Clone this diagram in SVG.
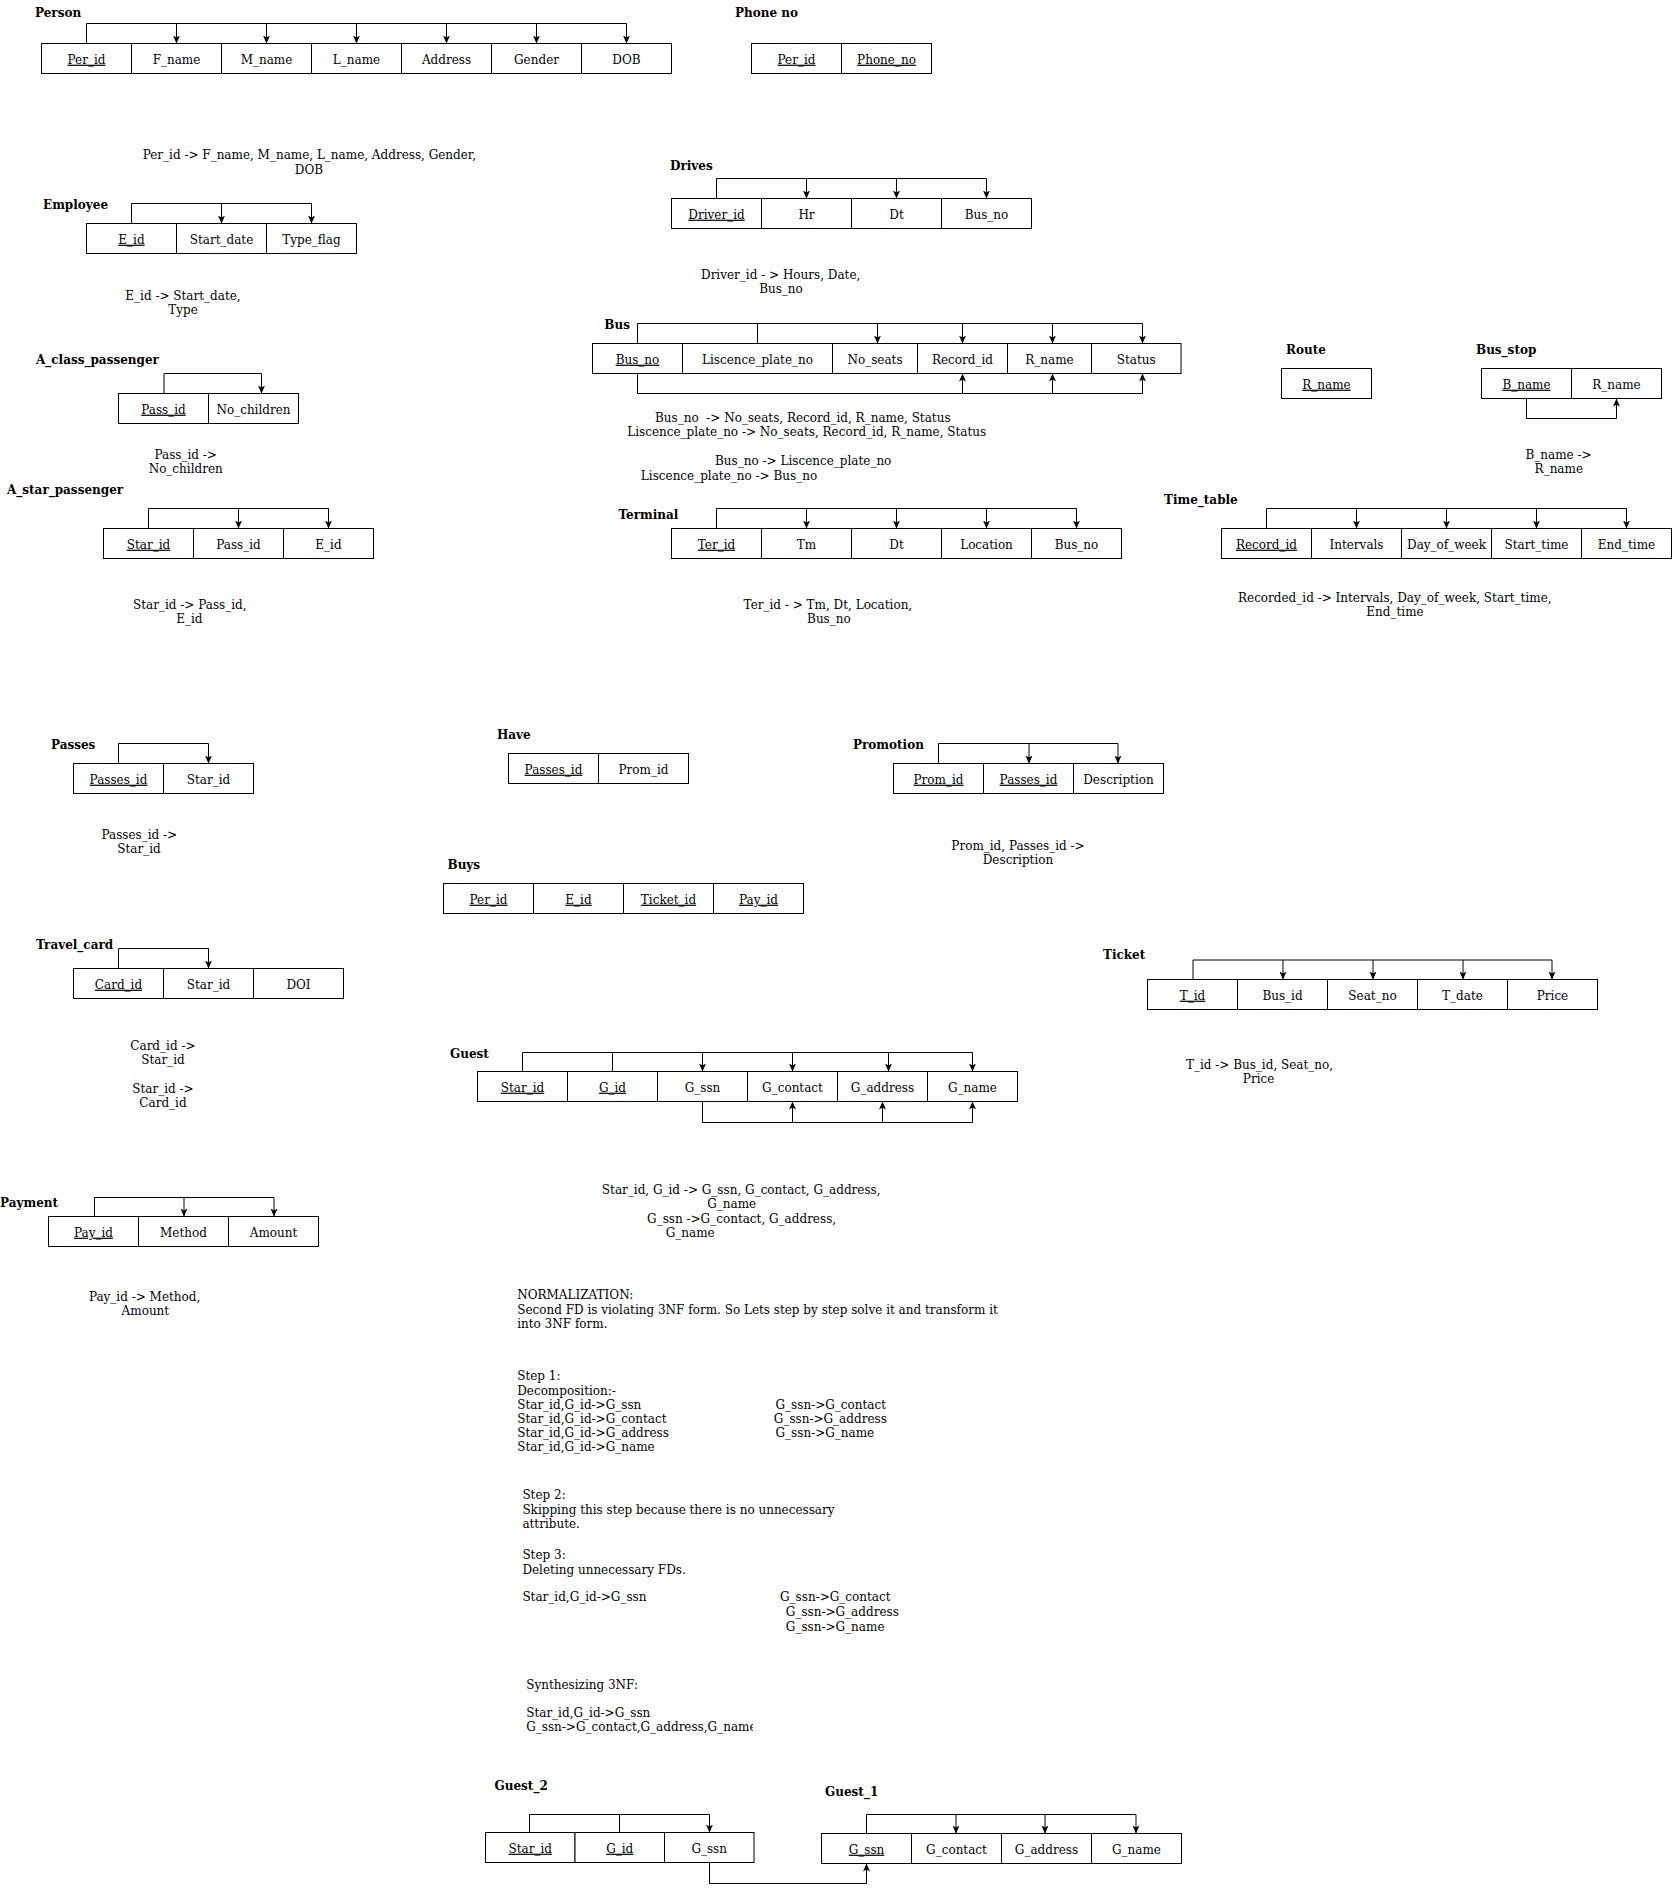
<svg xmlns="http://www.w3.org/2000/svg" width="1672" height="1892" viewBox="0 0 1672 1892">
<style>
  text { font-family: "DejaVu Serif", serif; font-size: 12px; fill: #000; transform: translateY(1px); }
  .c { text-anchor: middle; }
  .k { text-decoration: underline; }
  .lbl { font-weight: bold; }
  .cell { fill: #fff; stroke: #000; stroke-width: 1; }
  .ln { fill: none; stroke: #000; stroke-width: 1; }
  .ar { fill: none; stroke: #000; stroke-width: 1; marker-end: url(#arr); }
</style>
<defs>
  <marker id="arr" viewBox="0 0 8 7" markerWidth="8" markerHeight="7" refX="8" refY="3.5" orient="auto" markerUnits="userSpaceOnUse">
    <path d="M0,0 L8,3.5 L0,7 L2,3.5 z" fill="#000"/>
  </marker>
  <clipPath id="clipSynth"><rect x="500" y="1700" width="253" height="40"/></clipPath>
</defs>
<rect width="1672" height="1892" fill="#fff"/>

<!-- relation tables -->
<g id="person">
  <text class="lbl" x="35" y="15.5">Person</text>
  <rect class="cell" x="41.5" y="43.5" width="90" height="30"/>
  <rect class="cell" x="131.5" y="43.5" width="90" height="30"/>
  <rect class="cell" x="221.5" y="43.5" width="90" height="30"/>
  <rect class="cell" x="311.5" y="43.5" width="90" height="30"/>
  <rect class="cell" x="401.5" y="43.5" width="90" height="30"/>
  <rect class="cell" x="491.5" y="43.5" width="90" height="30"/>
  <rect class="cell" x="581.5" y="43.5" width="90" height="30"/>
  <text class="c k" x="86.5" y="62.7">Per_id</text>
  <text class="c" x="176.5" y="62.7">F_name</text>
  <text class="c" x="266.5" y="62.7">M_name</text>
  <text class="c" x="356.5" y="62.7">L_name</text>
  <text class="c" x="446.5" y="62.7">Address</text>
  <text class="c" x="536.5" y="62.7">Gender</text>
  <text class="c" x="626.5" y="62.7">DOB</text>
  <text class="c" x="309.4" y="158">Per_id -&gt; F_name, M_name, L_name, Address, Gender,</text>
  <text class="c" x="309" y="172.5">DOB</text>
</g>

<g id="phone_no">
  <text class="lbl" x="735" y="15.5">Phone no</text>
  <rect class="cell" x="751.5" y="43.5" width="90" height="30"/>
  <rect class="cell" x="841.5" y="43.5" width="90" height="30"/>
  <text class="c k" x="796.5" y="62.7">Per_id</text>
  <text class="c k" x="886.5" y="62.7">Phone_no</text>
</g>

<g id="employee">
  <text class="lbl" x="43" y="208">Employee</text>
  <rect class="cell" x="86.5" y="223.5" width="90" height="30"/>
  <rect class="cell" x="176.5" y="223.5" width="90" height="30"/>
  <rect class="cell" x="266.5" y="223.5" width="90" height="30"/>
  <text class="c k" x="131.5" y="242.7">E_id</text>
  <text class="c" x="221.5" y="242.7">Start_date</text>
  <text class="c" x="311.5" y="242.7">Type_flag</text>
  <text class="c" x="183" y="298.5">E_id -&gt; Start_date,</text>
  <text class="c" x="183" y="312.5">Type</text>
</g>

<g id="drives">
  <text class="lbl" x="670" y="168.7">Drives</text>
  <rect class="cell" x="671.5" y="198.5" width="90" height="30"/>
  <rect class="cell" x="761.5" y="198.5" width="90" height="30"/>
  <rect class="cell" x="851.5" y="198.5" width="90" height="30"/>
  <rect class="cell" x="941.5" y="198.5" width="90" height="30"/>
  <text class="c k" x="716.5" y="217.7">Driver_id</text>
  <text class="c" x="806.5" y="217.7">Hr</text>
  <text class="c" x="896.5" y="217.7">Dt</text>
  <text class="c" x="986.5" y="217.7">Bus_no</text>
  <text class="c" x="780.7" y="278">Driver_id - &gt; Hours, Date,</text>
  <text class="c" x="781" y="292">Bus_no</text>
</g>

<g id="bus">
  <text class="lbl" x="604.3" y="328">Bus</text>
  <rect class="cell" x="592.5" y="343.5" width="90" height="30"/>
  <rect class="cell" x="682.5" y="343.5" width="150" height="30"/>
  <rect class="cell" x="832.5" y="343.5" width="85" height="30"/>
  <rect class="cell" x="917.5" y="343.5" width="90" height="30"/>
  <rect class="cell" x="1007.5" y="343.5" width="84" height="30"/>
  <rect class="cell" x="1091.5" y="343.5" width="89.5" height="30"/>
  <text class="c k" x="637.5" y="362.7">Bus_no</text>
  <text class="c" x="757.5" y="362.7">Liscence_plate_no</text>
  <text class="c" x="875" y="362.7">No_seats</text>
  <text class="c" x="962.5" y="362.7">Record_id</text>
  <text class="c" x="1049.5" y="362.7">R_name</text>
  <text class="c" x="1136.2" y="362.7">Status</text>
  <text class="c" x="802.8" y="421.4" xml:space="preserve">Bus_no  -&gt; No_seats, Record_id, R_name, Status</text>
  <text class="c" x="806.7" y="435.4">Liscence_plate_no -&gt; No_seats, Record_id, R_name, Status</text>
  <text class="c" x="803.2" y="464.4">Bus_no -&gt; Liscence_plate_no</text>
  <text class="c" x="729" y="478.7">Liscence_plate_no -&gt; Bus_no</text>
</g>

<g id="route">
  <text class="lbl" x="1286" y="353">Route</text>
  <rect class="cell" x="1281.5" y="368.5" width="90" height="30"/>
  <text class="c k" x="1326.5" y="387.7">R_name</text>
</g>

<g id="bus_stop">
  <text class="lbl" x="1476" y="353">Bus_stop</text>
  <rect class="cell" x="1481.5" y="368.5" width="90" height="30"/>
  <rect class="cell" x="1571.5" y="368.5" width="90" height="30"/>
  <text class="c k" x="1526.5" y="387.7">B_name</text>
  <text class="c" x="1616.5" y="387.7">R_name</text>
  <text class="c" x="1558.5" y="458">B_name -&gt;</text>
  <text class="c" x="1558.8" y="472">R_name</text>
</g>

<g id="a_class_passenger">
  <text class="lbl" x="36" y="363">A_class_passenger</text>
  <rect class="cell" x="118.5" y="393.5" width="90" height="30"/>
  <rect class="cell" x="208.5" y="393.5" width="90" height="30"/>
  <text class="c k" x="163.5" y="412.7">Pass_id</text>
  <text class="c" x="253.5" y="412.7">No_children</text>
  <text class="c" x="185.7" y="458">Pass_id -&gt;</text>
  <text class="c" x="185.7" y="472">No_children</text>
</g>

<g id="a_star_passenger">
  <text class="lbl" x="7" y="493">A_star_passenger</text>
  <rect class="cell" x="103.5" y="528.5" width="90" height="30"/>
  <rect class="cell" x="193.5" y="528.5" width="90" height="30"/>
  <rect class="cell" x="283.5" y="528.5" width="90" height="30"/>
  <text class="c k" x="148.5" y="547.7">Star_id</text>
  <text class="c" x="238.5" y="547.7">Pass_id</text>
  <text class="c" x="328.5" y="547.7">E_id</text>
  <text class="c" x="189.8" y="608.3">Star_id -&gt; Pass_id,</text>
  <text class="c" x="189.3" y="622.3">E_id</text>
</g>

<g id="terminal">
  <text class="lbl" x="618.5" y="518">Terminal</text>
  <rect class="cell" x="671.5" y="528.5" width="90" height="30"/>
  <rect class="cell" x="761.5" y="528.5" width="90" height="30"/>
  <rect class="cell" x="851.5" y="528.5" width="90" height="30"/>
  <rect class="cell" x="941.5" y="528.5" width="90" height="30"/>
  <rect class="cell" x="1031.5" y="528.5" width="90" height="30"/>
  <text class="c k" x="716.5" y="547.7">Ter_id</text>
  <text class="c" x="806.5" y="547.7">Tm</text>
  <text class="c" x="896.5" y="547.7">Dt</text>
  <text class="c" x="986.5" y="547.7">Location</text>
  <text class="c" x="1076.5" y="547.7">Bus_no</text>
  <text class="c" x="827.9" y="608">Ter_id - &gt; Tm, Dt, Location,</text>
  <text class="c" x="828.9" y="622">Bus_no</text>
</g>

<g id="time_table">
  <text class="lbl" x="1164" y="503">Time_table</text>
  <rect class="cell" x="1221.5" y="528.5" width="90" height="30"/>
  <rect class="cell" x="1311.5" y="528.5" width="90" height="30"/>
  <rect class="cell" x="1401.5" y="528.5" width="90" height="30"/>
  <rect class="cell" x="1491.5" y="528.5" width="90" height="30"/>
  <rect class="cell" x="1581.5" y="528.5" width="90" height="30"/>
  <text class="c k" x="1266.5" y="547.7">Record_id</text>
  <text class="c" x="1356.5" y="547.7">Intervals</text>
  <text class="c" x="1446.5" y="547.7">Day_of_week</text>
  <text class="c" x="1536.5" y="547.7">Start_time</text>
  <text class="c" x="1626.5" y="547.7">End_time</text>
  <text class="c" x="1394.8" y="601.3">Recorded_id -&gt; Intervals, Day_of_week, Start_time,</text>
  <text class="c" x="1395" y="615.3">End_time</text>
</g>

<g id="passes">
  <text class="lbl" x="51" y="748">Passes</text>
  <rect class="cell" x="73.5" y="763.5" width="90" height="30"/>
  <rect class="cell" x="163.5" y="763.5" width="90" height="30"/>
  <text class="c k" x="118.5" y="782.7">Passes_id</text>
  <text class="c" x="208.5" y="782.7">Star_id</text>
  <text class="c" x="139.3" y="838">Passes_id -&gt;</text>
  <text class="c" x="139" y="852">Star_id</text>
</g>

<g id="have">
  <text class="lbl" x="497" y="738">Have</text>
  <rect class="cell" x="508.5" y="753.5" width="90" height="30"/>
  <rect class="cell" x="598.5" y="753.5" width="90" height="30"/>
  <text class="c k" x="553.5" y="772.7">Passes_id</text>
  <text class="c" x="643.5" y="772.7">Prom_id</text>
</g>

<g id="promotion">
  <text class="lbl" x="853" y="748">Promotion</text>
  <rect class="cell" x="893.5" y="763.5" width="90" height="30"/>
  <rect class="cell" x="983.5" y="763.5" width="90" height="30"/>
  <rect class="cell" x="1073.5" y="763.5" width="90" height="30"/>
  <text class="c k" x="938.5" y="782.7">Prom_id</text>
  <text class="c k" x="1028.5" y="782.7">Passes_id</text>
  <text class="c" x="1118.5" y="782.7">Description</text>
  <text class="c" x="1018" y="848.5">Prom_id, Passes_id -&gt;</text>
  <text class="c" x="1018" y="862.5">Description</text>
</g>

<g id="buys">
  <text class="lbl" x="447.5" y="868">Buys</text>
  <rect class="cell" x="443.5" y="883.5" width="90" height="30"/>
  <rect class="cell" x="533.5" y="883.5" width="90" height="30"/>
  <rect class="cell" x="623.5" y="883.5" width="90" height="30"/>
  <rect class="cell" x="713.5" y="883.5" width="90" height="30"/>
  <text class="c k" x="488.5" y="902.7">Per_id</text>
  <text class="c k" x="578.5" y="902.7">E_id</text>
  <text class="c k" x="668.5" y="902.7">Ticket_id</text>
  <text class="c k" x="758.5" y="902.7">Pay_id</text>
</g>

<g id="travel_card">
  <text class="lbl" x="36" y="948">Travel_card</text>
  <rect class="cell" x="73.5" y="968.5" width="90" height="30"/>
  <rect class="cell" x="163.5" y="968.5" width="90" height="30"/>
  <rect class="cell" x="253.5" y="968.5" width="90" height="30"/>
  <text class="c k" x="118.5" y="987.7">Card_id</text>
  <text class="c" x="208.5" y="987.7">Star_id</text>
  <text class="c" x="298.5" y="987.7">DOI</text>
  <text class="c" x="162.9" y="1048.7">Card_id -&gt;</text>
  <text class="c" x="163" y="1062.7">Star_id</text>
  <text class="c" x="162.9" y="1092">Star_id -&gt;</text>
  <text class="c" x="163" y="1106">Card_id</text>
</g>

<g id="ticket">
  <text class="lbl" x="1103" y="958">Ticket</text>
  <rect class="cell" x="1147.5" y="979.5" width="90" height="30"/>
  <rect class="cell" x="1237.5" y="979.5" width="90" height="30"/>
  <rect class="cell" x="1327.5" y="979.5" width="90" height="30"/>
  <rect class="cell" x="1417.5" y="979.5" width="90" height="30"/>
  <rect class="cell" x="1507.5" y="979.5" width="90" height="30"/>
  <text class="c k" x="1192.5" y="998.7">T_id</text>
  <text class="c" x="1282.5" y="998.7">Bus_id</text>
  <text class="c" x="1372.5" y="998.7">Seat_no</text>
  <text class="c" x="1462.5" y="998.7">T_date</text>
  <text class="c" x="1552.5" y="998.7">Price</text>
  <text class="c" x="1259.5" y="1068">T_id -&gt; Bus_id, Seat_no,</text>
  <text class="c" x="1258.6" y="1082">Price</text>
</g>

<g id="guest">
  <text class="lbl" x="450" y="1056.5">Guest</text>
  <rect class="cell" x="477.5" y="1071.5" width="90" height="30"/>
  <rect class="cell" x="567.5" y="1071.5" width="90" height="30"/>
  <rect class="cell" x="657.5" y="1071.5" width="90" height="30"/>
  <rect class="cell" x="747.5" y="1071.5" width="90" height="30"/>
  <rect class="cell" x="837.5" y="1071.5" width="90" height="30"/>
  <rect class="cell" x="927.5" y="1071.5" width="90" height="30"/>
  <text class="c k" x="522.5" y="1090.7">Star_id</text>
  <text class="c k" x="612.5" y="1090.7">G_id</text>
  <text class="c" x="702.5" y="1090.7">G_ssn</text>
  <text class="c" x="792.5" y="1090.7">G_contact</text>
  <text class="c" x="882.5" y="1090.7">G_address</text>
  <text class="c" x="972.5" y="1090.7">G_name</text>
  <text class="c" x="741.2" y="1193">Star_id, G_id -&gt; G_ssn, G_contact, G_address,</text>
  <text class="c" x="731.7" y="1207">G_name</text>
  <text class="c" x="741.6" y="1222">G_ssn -&gt;G_contact, G_address,</text>
  <text class="c" x="690.2" y="1236">G_name</text>
</g>

<g id="payment">
  <text class="lbl" x="0" y="1205.5">Payment</text>
  <rect class="cell" x="48.5" y="1216.5" width="90" height="30"/>
  <rect class="cell" x="138.5" y="1216.5" width="90" height="30"/>
  <rect class="cell" x="228.5" y="1216.5" width="90" height="30"/>
  <text class="c k" x="93.5" y="1235.7">Pay_id</text>
  <text class="c" x="183.5" y="1235.7">Method</text>
  <text class="c" x="273.5" y="1235.7">Amount</text>
  <text class="c" x="144.6" y="1300">Pay_id -&gt; Method,</text>
  <text class="c" x="145.4" y="1314">Amount</text>
</g>

<!-- 3NF normalization notes -->
<g id="normalization">
  <text x="517.2" y="1298">NORMALIZATION:</text>
  <text x="517.2" y="1313">Second FD is violating 3NF form. So Lets step by step solve it and transform it</text>
  <text x="517.2" y="1327">into 3NF form.</text>
  <text x="517.2" y="1378.7">Step 1:</text>
  <text x="517.2" y="1393.7">Decomposition:-</text>
  <text x="517.2" y="1408">Star_id,G_id-&gt;G_ssn</text>
  <text x="517.2" y="1422">Star_id,G_id-&gt;G_contact</text>
  <text x="517.2" y="1436.4">Star_id,G_id-&gt;G_address</text>
  <text x="517.2" y="1450.4">Star_id,G_id-&gt;G_name</text>
  <text x="775.5" y="1408">G_ssn-&gt;G_contact</text>
  <text x="773.8" y="1422">G_ssn-&gt;G_address</text>
  <text x="775.5" y="1436.4">G_ssn-&gt;G_name</text>
  <text x="522.4" y="1497.7">Step 2:</text>
  <text x="522.4" y="1512.7">Skipping this step because there is no unnecessary</text>
  <text x="522.4" y="1527">attribute.</text>
  <text x="522.4" y="1557.7">Step 3:</text>
  <text x="522.4" y="1572.7">Deleting unnecessary FDs.</text>
  <text x="522.4" y="1600.4">Star_id,G_id-&gt;G_ssn</text>
  <text x="780" y="1600.4">G_ssn-&gt;G_contact</text>
  <text x="785.8" y="1615.4">G_ssn-&gt;G_address</text>
  <text x="785.8" y="1629.7">G_ssn-&gt;G_name</text>
  <text x="526.2" y="1687.7">Synthesizing 3NF:</text>
  <text x="526.2" y="1716.4">Star_id,G_id-&gt;G_ssn</text>
  <g clip-path="url(#clipSynth)">
    <text x="526.2" y="1730.4">G_ssn-&gt;G_contact,G_address,G_name</text>
  </g>
</g>

<g id="guest_2">
  <text class="lbl" x="494.5" y="1789">Guest_2</text>
  <rect class="cell" x="485.5" y="1832.5" width="89.5" height="30"/>
  <rect class="cell" x="575" y="1832.5" width="89.5" height="30"/>
  <rect class="cell" x="664.5" y="1832.5" width="89.5" height="30"/>
  <text class="c k" x="530.2" y="1851.7">Star_id</text>
  <text class="c k" x="619.7" y="1851.7">G_id</text>
  <text class="c" x="709.2" y="1851.7">G_ssn</text>
</g>

<g id="guest_1">
  <text class="lbl" x="825" y="1795">Guest_1</text>
  <rect class="cell" x="821.5" y="1833.5" width="90" height="30"/>
  <rect class="cell" x="911.5" y="1833.5" width="90" height="30"/>
  <rect class="cell" x="1001.5" y="1833.5" width="90" height="30"/>
  <rect class="cell" x="1091.5" y="1833.5" width="90" height="30"/>
  <text class="c k" x="866.5" y="1852.7">G_ssn</text>
  <text class="c" x="956.5" y="1852.7">G_contact</text>
  <text class="c" x="1046.5" y="1852.7">G_address</text>
  <text class="c" x="1136.5" y="1852.7">G_name</text>
</g>

<!-- functional dependency arrows -->
<g id="connectors">
  <!-- Person -->
  <path class="ln" d="M86.5,43.5 V23.5 H626.5"/>
  <path class="ar" d="M176.5,23.5 V43.5"/>
  <path class="ar" d="M266.5,23.5 V43.5"/>
  <path class="ar" d="M356.5,23.5 V43.5"/>
  <path class="ar" d="M446.5,23.5 V43.5"/>
  <path class="ar" d="M536.5,23.5 V43.5"/>
  <path class="ar" d="M626.5,23.5 V43.5"/>
  <!-- Employee -->
  <path class="ln" d="M131.5,223.5 V203.5 H311.5"/>
  <path class="ar" d="M221.5,203.5 V223.5"/>
  <path class="ar" d="M311.5,203.5 V223.5"/>
  <!-- Drives -->
  <path class="ln" d="M716.5,198.5 V178.5 H986.5"/>
  <path class="ar" d="M806.5,178.5 V198.5"/>
  <path class="ar" d="M896.5,178.5 V198.5"/>
  <path class="ar" d="M986.5,178.5 V198.5"/>
  <!-- Bus -->
  <path class="ln" d="M637.5,343.5 V323.5 H1142.5"/>
  <path class="ln" d="M757.5,343.5 V323.5"/>
  <path class="ar" d="M877.5,323.5 V343.5"/>
  <path class="ar" d="M962.5,323.5 V343.5"/>
  <path class="ar" d="M1052.5,323.5 V343.5"/>
  <path class="ar" d="M1142.5,323.5 V343.5"/>
  <path class="ln" d="M637.5,373.5 V393.5 H1142.5"/>
  <path class="ar" d="M962.5,393.5 V373.5"/>
  <path class="ar" d="M1052.5,393.5 V373.5"/>
  <path class="ar" d="M1142.5,393.5 V373.5"/>
  <!-- Bus_stop -->
  <path class="ar" d="M1526.5,398.5 V418.5 H1616.5 V398.5"/>
  <!-- A_class_passenger -->
  <path class="ar" d="M164,393.5 V373.5 H261.5 V393.5"/>
  <!-- A_star_passenger -->
  <path class="ln" d="M148.5,528.5 V508.5 H328.5"/>
  <path class="ar" d="M238.5,508.5 V528.5"/>
  <path class="ar" d="M328.5,508.5 V528.5"/>
  <!-- Terminal -->
  <path class="ln" d="M716.5,528.5 V508.5 H1076.5"/>
  <path class="ar" d="M806.5,508.5 V528.5"/>
  <path class="ar" d="M896.5,508.5 V528.5"/>
  <path class="ar" d="M986.5,508.5 V528.5"/>
  <path class="ar" d="M1076.5,508.5 V528.5"/>
  <!-- Time_table -->
  <path class="ln" d="M1266.5,528.5 V508.5 H1626.5"/>
  <path class="ar" d="M1356.5,508.5 V528.5"/>
  <path class="ar" d="M1446.5,508.5 V528.5"/>
  <path class="ar" d="M1536.5,508.5 V528.5"/>
  <path class="ar" d="M1626.5,508.5 V528.5"/>
  <!-- Passes -->
  <path class="ar" d="M118.5,763.5 V743.5 H208.5 V763.5"/>
  <!-- Promotion -->
  <path class="ln" d="M938.5,763.5 V743.5 H1118"/>
  <path class="ar" d="M1029,743.5 V763.5"/>
  <path class="ar" d="M1118,743.5 V763.5"/>
  <!-- Travel_card -->
  <path class="ar" d="M118.5,968.5 V948.5 H208.5 V968.5"/>
  <!-- Ticket -->
  <path class="ln" d="M1193,979.5 V960 H1552"/>
  <path class="ar" d="M1283,960 V979.5"/>
  <path class="ar" d="M1373,960 V979.5"/>
  <path class="ar" d="M1463,960 V979.5"/>
  <path class="ar" d="M1552,960 V979.5"/>
  <!-- Guest -->
  <path class="ln" d="M522.5,1071.5 V1052.5 H972.5"/>
  <path class="ln" d="M612.5,1071.5 V1052.5"/>
  <path class="ar" d="M702.5,1052.5 V1071.5"/>
  <path class="ar" d="M792.5,1052.5 V1071.5"/>
  <path class="ar" d="M888.5,1052.5 V1071.5"/>
  <path class="ar" d="M972.5,1052.5 V1071.5"/>
  <path class="ln" d="M702.5,1101.5 V1122.5 H972.5"/>
  <path class="ar" d="M792.5,1122.5 V1101.5"/>
  <path class="ar" d="M882.5,1122.5 V1101.5"/>
  <path class="ar" d="M972.5,1122.5 V1101.5"/>
  <!-- Payment -->
  <path class="ln" d="M94.5,1216.5 V1197.5 H274"/>
  <path class="ar" d="M184,1197.5 V1216.5"/>
  <path class="ar" d="M274,1197.5 V1216.5"/>
  <!-- Guest_2 -->
  <path class="ln" d="M529.5,1832.5 V1814.5 H709.5"/>
  <path class="ln" d="M619.5,1832.5 V1814.5"/>
  <path class="ar" d="M709.5,1814.5 V1832.5"/>
  <!-- Guest_2.G_ssn to Guest_1.G_ssn -->
  <path class="ar" d="M709.5,1862.5 V1883.5 H866.5 V1863.5"/>
  <!-- Guest_1 -->
  <path class="ln" d="M866.5,1833.5 V1814.5 H1136"/>
  <path class="ar" d="M956,1814.5 V1833.5"/>
  <path class="ar" d="M1045,1814.5 V1833.5"/>
  <path class="ar" d="M1136,1814.5 V1833.5"/>
</g>
</svg>
